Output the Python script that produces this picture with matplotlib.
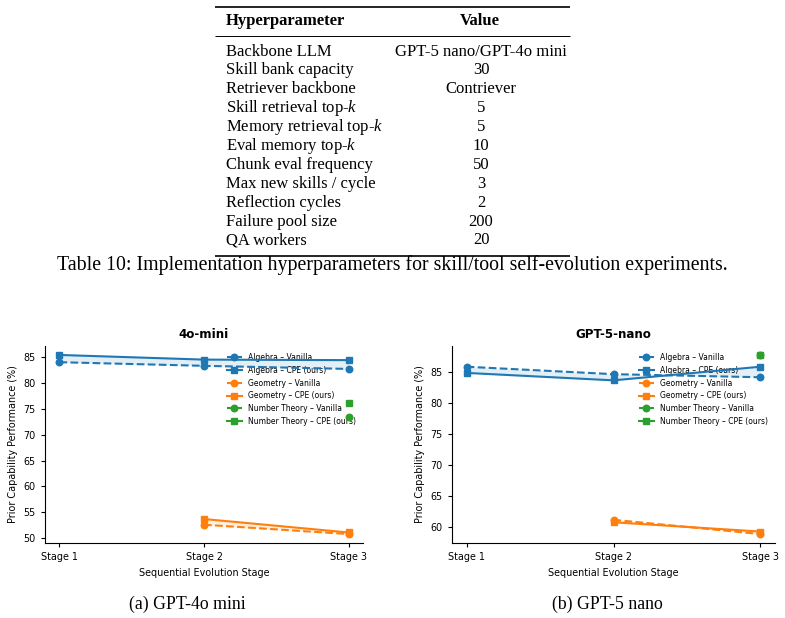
import numpy as np
import matplotlib
matplotlib.use("Agg")
import matplotlib.pyplot as plt

# ---- table data ----
param_names = ["Backbone LLM", "Skill bank capacity", "Retriever backbone",
               "Skill retrieval top-$k$", "Memory retrieval top-$k$",
               "Eval memory top-$k$", "Chunk eval frequency",
               "Max new skills / cycle", "Reflection cycles",
               "Failure pool size", "QA workers"]
param_values = ["GPT-5 nano/GPT-4o mini", "30", "Contriever", "5", "5", "10",
                "50", "3", "2", "200", "20"]

# ---- chart data ----
stages = ["Stage 1", "Stage 2", "Stage 3"]
nan = np.nan
# 4o-mini
mini_alg_van = [84.0, 83.3, 82.7]
mini_alg_cpe = [85.4, 84.5, 84.4]
mini_geo_van = [nan, 52.6, 50.8]
mini_geo_cpe = [nan, 53.7, 51.1]
mini_nt_van = [nan, nan, 73.5]
mini_nt_cpe = [nan, nan, 76.1]
# GPT-5-nano
nano_alg_van = [85.9, 84.7, 84.2]
nano_alg_cpe = [84.9, 83.7, 85.9]
nano_geo_van = [nan, 61.2, 58.9]
nano_geo_cpe = [nan, 60.8, 59.3]
nano_nt_van = [nan, nan, 87.8]
nano_nt_cpe = [nan, nan, 87.8]

W, H = 785, 618
plt.rcParams['mathtext.fontset'] = 'custom'
plt.rcParams['mathtext.rm'] = 'Liberation Serif'
plt.rcParams['mathtext.it'] = 'Liberation Serif:italic'

fig = plt.figure(figsize=(W / 100, H / 100), dpi=100)

# page-like overlay in pixel coordinates
page = fig.add_axes([0, 0, 1, 1])
page.set_xlim(0, W)
page.set_ylim(H, 0)
page.axis("off")

serif = "Liberation Serif"
fs = 12
x0, x1 = 215, 570
page.hlines([6.5, 255.5], x0, x1, color="black", lw=1.2)
page.hlines([35.5], x0, x1, color="black", lw=0.7)
page.text(226, 21, "Hyperparameter", family=serif, weight="bold", fontsize=fs,
          va="center", ha="left")
page.text(480, 21, "Value", family=serif, weight="bold", fontsize=fs,
          va="center", ha="center")
for i, (name, val) in enumerate(zip(param_names, param_values)):
    y = 51.5 + 18.9 * i
    page.text(226, y, name, family=serif, fontsize=fs, va="center", ha="left")
    page.text(481, y, val, family=serif, fontsize=fs, va="center", ha="center")

page.text(392, 265, "Table 10: Implementation hyperparameters for skill/tool "
          "self-evolution experiments.", family=serif, fontsize=14.3,
          va="center", ha="center")
page.text(187, 604, "(a) GPT-4o mini", family=serif, fontsize=12.8,
          va="center", ha="center")
page.text(607, 604, "(b) GPT-5 nano", family=serif, fontsize=12.8,
          va="center", ha="center")


def draw_panel(ax, title, series):
    x = np.arange(len(stages))
    colors = ["tab:blue", "tab:orange", "tab:green"]
    for (name, van, cpe), c in zip(series, colors):
        van = np.array(van)
        cpe = np.array(cpe)
        ax.plot(x, van, "--o", color=c, lw=1.5, ms=4.7,
                label=f"{name} – Vanilla")
        ax.plot(x, cpe, "-s", color=c, lw=1.5, ms=4.7,
                label=f"{name} – CPE (ours)")
        ok = ~np.isnan(van) & ~np.isnan(cpe)
        ax.fill_between(x[ok], van[ok], cpe[ok], color=c, alpha=0.12, lw=0)
    ax.set_xticks(x)
    ax.set_xticklabels(stages)
    ax.set_xlabel("Sequential Evolution Stage", fontsize=6.9)
    ax.set_ylabel("Prior Capability Performance (%)", fontsize=6.9)
    ax.set_title(title, fontsize=8.6, weight="bold")
    ax.tick_params(labelsize=6.9, length=3, width=0.8)
    ax.spines["top"].set_visible(False)
    ax.spines["right"].set_visible(False)
    leg = ax.legend(loc="upper right", fontsize=5.5, frameon=False)
    leg.set_zorder(1)


ax1 = fig.add_axes([45 / W, 1 - 543 / H, 318 / W, 197 / H])
draw_panel(ax1, "4o-mini", [("Algebra", mini_alg_van, mini_alg_cpe),
                            ("Geometry", mini_geo_van, mini_geo_cpe),
                            ("Number Theory", mini_nt_van, mini_nt_cpe)])

ax2 = fig.add_axes([452 / W, 1 - 543 / H, 323 / W, 197 / H])
draw_panel(ax2, "GPT-5-nano", [("Algebra", nano_alg_van, nano_alg_cpe),
                               ("Geometry", nano_geo_van, nano_geo_cpe),
                               ("Number Theory", nano_nt_van, nano_nt_cpe)])

fig.savefig("out.png", dpi=100)
